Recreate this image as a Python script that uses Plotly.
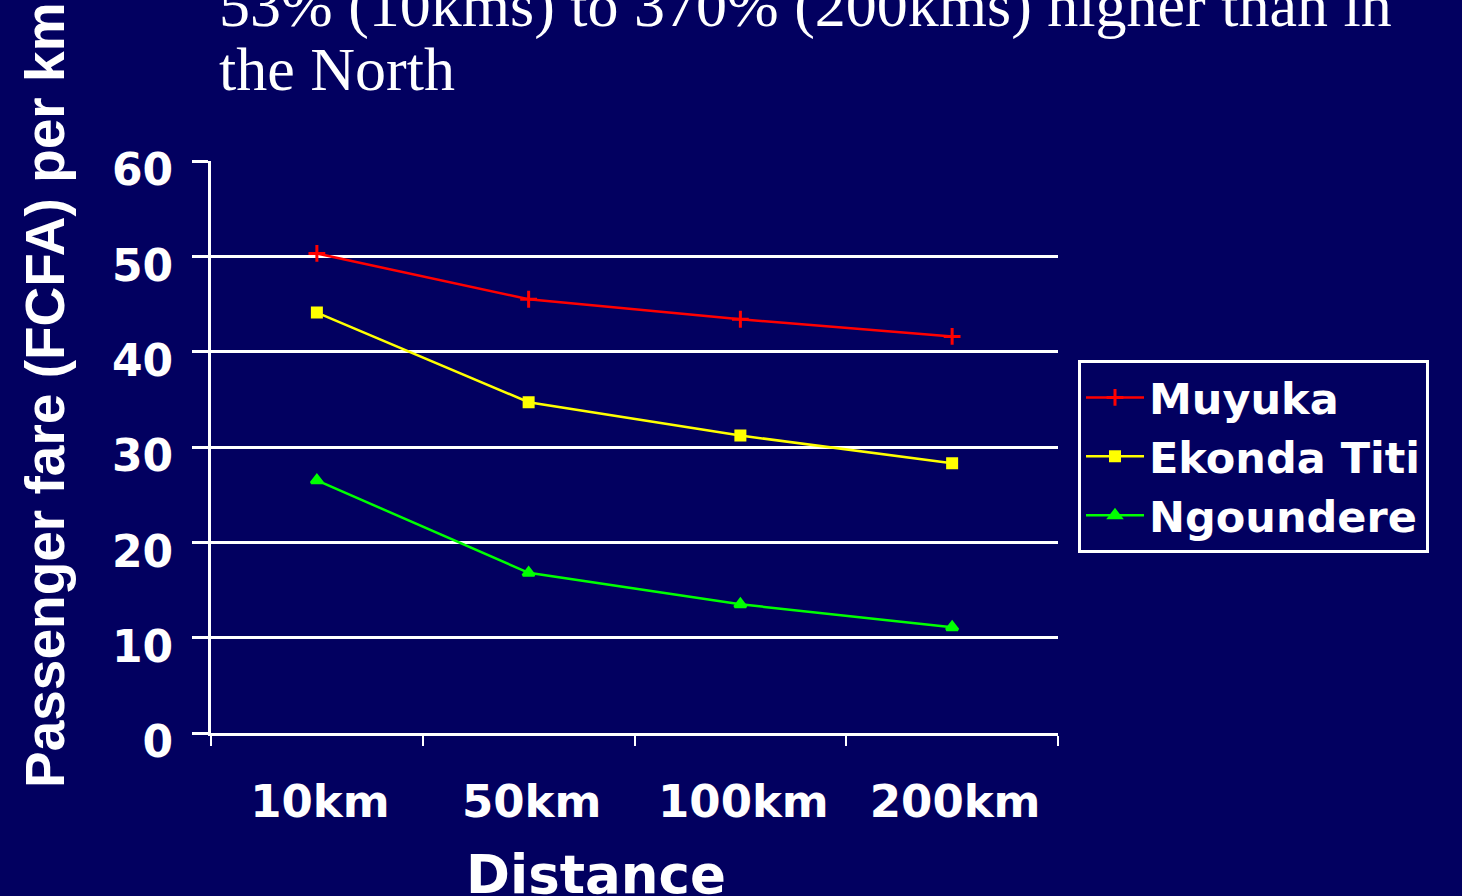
import plotly.graph_objects as go

categories = ["10km", "50km", "100km", "200km"]
muyuka = [50.3, 45.5, 43.4, 41.6]
ekonda_titi = [44.1, 34.7, 31.2, 28.3]
ngoundere = [26.5, 16.8, 13.5, 11.1]

series_names = ["Muyuka", "Ekonda Titi", "Ngoundere"]
title_line1 = "53% (10kms) to 370% (200kms) higher than in"
title_line2 = "the North"
y_title = "Passenger fare (FCFA) per km"
x_title = "Distance"

BG = "#020060"
W, H = 1462, 896
L, R, T, B = 211, 1058, 161, 733


def px_x(x):
    return (x - L) / (R - L)


def px_y(y):
    return (B - y) / (B - T)


sans = "Liberation Sans"
wide = "DejaVu Sans"
serif = "Liberation Serif"

fig = go.Figure()
styles = [
    ("#FF0000", "cross-thin", 12),
    ("#FFFF00", "square", 9),
    ("#00FF00", "triangle-up", 10),
]
for name, vals, (col, sym, sz) in zip(series_names, [muyuka, ekonda_titi, ngoundere], styles):
    fig.add_trace(go.Scatter(
        x=categories, y=vals, name=name, mode="lines+markers",
        line=dict(color=col, width=2.5),
        marker=dict(symbol=sym, size=sz, color=col, line=dict(color=col, width=3)),
    ))

fig.update_layout(
    width=W, height=H,
    margin=dict(l=L, r=W - R, t=T, b=H - B, pad=0),
    paper_bgcolor=BG, plot_bgcolor=BG,
    font=dict(family=sans, color="white"),
    showlegend=True,
    legend=dict(
        x=px_x(1078), y=px_y(360), xanchor="left", yanchor="top",
        bgcolor="rgba(0,0,0,0)", bordercolor="white", borderwidth=3,
        font=dict(family=wide, size=43, color="white", weight="bold"),
        itemwidth=58, tracegroupgap=0,
    ),
    xaxis=dict(
        type="category", range=[-0.5, 3.5], showgrid=False, showline=True,
        linecolor="white", linewidth=3,
        ticks="outside", tickson="boundaries", ticklen=10, tickwidth=2, tickcolor="white",
        tickfont=dict(family=wide, size=45, color="white", weight="bold"),
        ticklabelstandoff=27, ticklabelshift=3, zeroline=False,
    ),
    yaxis=dict(
        range=[0, 60], dtick=10, showgrid=True, gridcolor="white", gridwidth=3,
        showline=True, linecolor="white", linewidth=3,
        ticks="outside", ticklen=16, tickwidth=3, tickcolor="white",
        tickfont=dict(family=wide, size=44, color="white", weight="bold"),
        ticklabelstandoff=10, ticklabelshift=9, zeroline=False,
    ),
)

ann = [
    dict(text=title_line1, x=px_x(217), y=px_y(5), xanchor="left", yanchor="middle",
         font=dict(family=serif, size=62, color="white")),
    dict(text=title_line2, x=px_x(217), y=px_y(69), xanchor="left", yanchor="middle",
         font=dict(family=serif, size=62, color="white")),
    dict(text=x_title, x=px_x(596), y=px_y(874), xanchor="center", yanchor="middle",
         font=dict(family=wide, size=53, color="white", weight="bold")),
    dict(text=y_title, x=px_x(45), y=px_y(395), xanchor="center", yanchor="middle",
         textangle=-90, font=dict(family=sans, size=55, color="white", weight="bold")),
]
for a in ann:
    fig.add_annotation(xref="paper", yref="paper", showarrow=False, **a)

fig.write_html(
    "out.html",
    config={"displayModeBar": False},
    post_script="document.body.style.margin='0';document.body.style.background='" + BG + "';",
)
